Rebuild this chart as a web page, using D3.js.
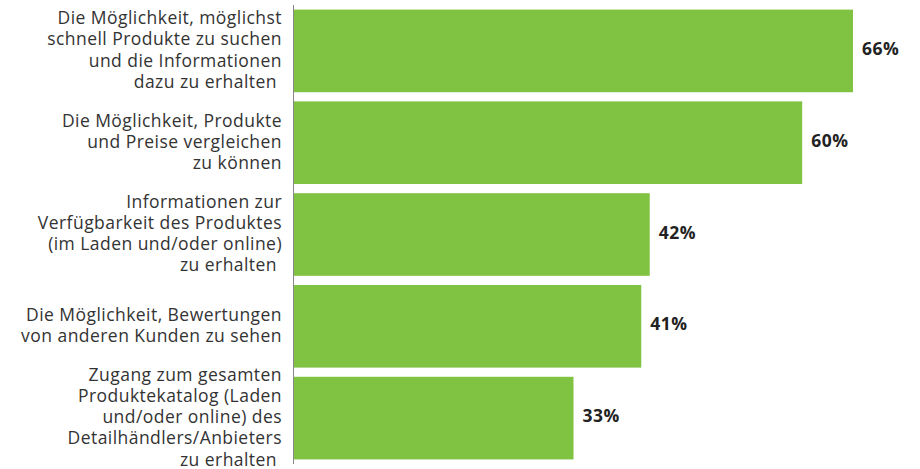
<!DOCTYPE html>
<html>
<head>
<meta charset="utf-8">
<script src="https://cdn.jsdelivr.net/npm/d3@7"></script>
<style>
  body { margin: 0; background: #fff; }
  text { font-family: "Open Sans", sans-serif; }
</style>
</head>
<body>
<div class="chart"></div>
<script>
// chart data
var categories = [
  ["Die Möglichkeit, möglichst", "schnell Produkte zu suchen", "und die Informationen", "dazu zu erhalten "],
  ["Die Möglichkeit, Produkte", "und Preise vergleichen", "zu können"],
  ["Informationen zur", "Verfügbarkeit des Produktes", "(im Laden und/oder online)", "zu erhalten "],
  ["Die Möglichkeit, Bewertungen", "von anderen Kunden zu sehen"],
  ["Zugang zum gesamten", "Produktekatalog (Laden", "und/oder online) des", "Detailhändlers/Anbieters", "zu erhalten "]
];
var values = [66, 60, 42, 41, 33];
var valueLabels = ["66%", "60%", "42%", "41%", "33%"];

var svgWidth = 920;
var svgHeight = 469;
var axisX = 294;

var svg = d3.select(".chart")
  .append("svg")
  .attr("width", svgWidth)
  .attr("height", svgHeight);

var x = d3.scaleLinear()
  .domain([0, 66])
  .range([axisX, 853]);

var y = d3.scaleBand()
  .domain(d3.range(values.length))
  .range([5, 464])
  .paddingInner(0.1)
  .paddingOuter(0.05);

// bars
svg.selectAll("rect.bar")
  .data(values)
  .enter()
  .append("rect")
  .attr("class", "bar")
  .attr("x", x(0))
  .attr("y", (d, i) => y(i))
  .attr("width", d => x(d) - x(0))
  .attr("height", y.bandwidth())
  .attr("fill", "#80c242");

// left axis line
svg.append("line")
  .attr("x1", axisX - 0.5)
  .attr("x2", axisX - 0.5)
  .attr("y1", y.range()[0])
  .attr("y2", y.range()[1])
  .attr("stroke", "#888")
  .attr("stroke-width", 1);

// value labels
svg.selectAll("text.value")
  .data(values)
  .enter()
  .append("text")
  .attr("class", "value")
  .attr("x", d => x(d) + 9)
  .attr("y", (d, i) => y(i) + y.bandwidth() / 2 - 2)
  .attr("dy", "0.35em")
  .attr("font-size", 17.5)
  .attr("font-weight", "bold")
  .attr("letter-spacing", 0.5)
  .attr("fill", "#222")
  .text((d, i) => valueLabels[i]);

// category labels
var lineHeight = 21.2;
categories.forEach(function(lines, i) {
  var cy = y(i) + y.bandwidth() / 2 - 1;
  var t = svg.append("text")
    .attr("text-anchor", "end")
    .attr("font-size", 17.5)
    .attr("letter-spacing", 0.45)
    .attr("fill", "#333")
    .style("white-space", "pre");
  lines.forEach(function(line, j) {
    t.append("tspan")
      .attr("x", 282)
      .attr("y", cy + (j - (lines.length - 1) / 2) * lineHeight)
      .attr("dy", "0.35em")
      .text(line);
  });
});
</script>
</body>
</html>
